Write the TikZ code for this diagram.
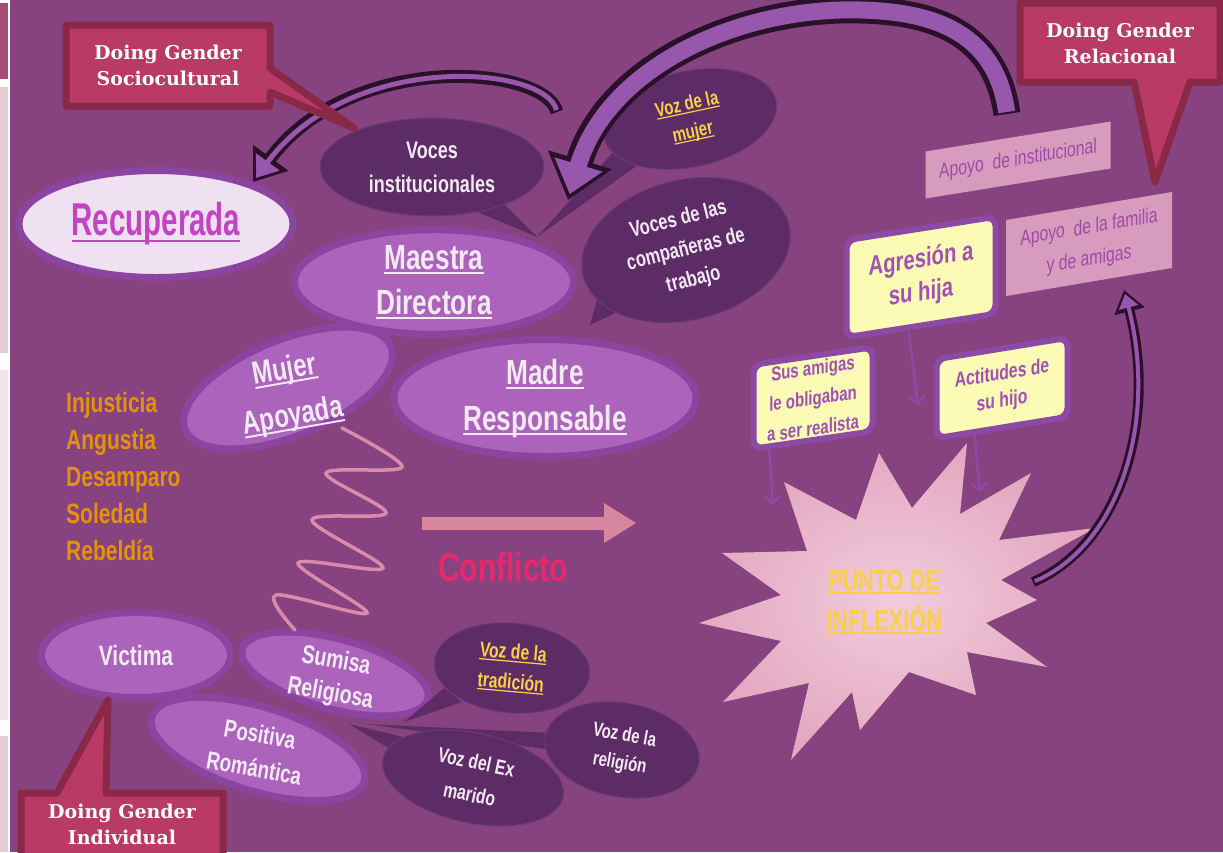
\documentclass[tikz,border=0pt]{standalone}
\usepackage{fontspec}
\setmainfont{Liberation Sans}
\newfontfamily\nar[FakeStretch=0.75]{Liberation Sans}
\newfontfamily\narr[FakeStretch=0.64]{Liberation Sans}
\newfontfamily\slab{DejaVu Serif}
\usetikzlibrary{shapes.geometric,arrows.meta,calc}
\definecolor{bg}{HTML}{87437F}
\definecolor{ellF}{HTML}{AB63BB}
\definecolor{ellB}{HTML}{8B45A1}
\definecolor{recF}{HTML}{EFE1F1}
\definecolor{recT}{HTML}{C244C4}
\definecolor{bubF}{HTML}{5D2C67}
\definecolor{bubB}{HTML}{6B3A78}
\definecolor{calF}{HTML}{B83A65}
\definecolor{calB}{HTML}{8A2848}
\definecolor{yelF}{HTML}{FBFBB6}
\definecolor{yelB}{HTML}{8D49A6}
\definecolor{yelT}{HTML}{A350B4}
\definecolor{apoF}{HTML}{D79BBE}
\definecolor{apoT}{HTML}{A04AA8}
\definecolor{txtW}{HTML}{F3E8F3}
\definecolor{txtY}{HTML}{F7D046}
\definecolor{orT}{HTML}{E3920A}
\definecolor{zig}{HTML}{D98BA9}
\definecolor{carr}{HTML}{D7869F}
\definecolor{confl}{HTML}{E8286C}
\definecolor{arrD}{HTML}{2B1029}
\definecolor{arrP}{HTML}{9657AC}
\definecolor{starL}{HTML}{F1CCDB}
\definecolor{starD}{HTML}{E3A8C0}
\definecolor{stripA}{HTML}{A84A78}
\definecolor{stripB}{HTML}{E6CCD6}
\definecolor{stripC}{HTML}{F1E5EB}
\newcommand{\myul}[1]{\setbox0=\hbox{#1}\rlap{\rule[-0.14em]{\wd0}{0.06em}}\box0}
\newcommand{\fsz}[2]{\fontsize{#1}{#2}\selectfont}
\begin{document}
\begin{tikzpicture}[x=1pt,y=-1pt,
 lell/.style={ellipse, draw=ellB, line width=7pt, fill=ellF, inner sep=0pt, text=txtW, align=center},
 bub/.style={ellipse, fill=bubF, draw=bubB, line width=1pt, inner sep=0pt, text=txtW, align=center},
 wtext/.style={text=txtW, align=center},
 ybox/.style={rectangle, rounded corners=9pt, draw=yelB, line width=6pt, fill=yelF, text=yelT, align=center, inner sep=0pt},
 apo/.style={rectangle, fill=apoF, text=apoT, align=center, inner sep=0pt},
 callout/.style={fill=calF, draw=calB, line width=7pt, line join=round},
 dgt/.style={text=white, align=center, font=\slab\bfseries\fsz{19}{26}},
 thinarr/.style={draw=yelB, line width=2.5pt, -{Straight Barb[length=7pt,width=16pt]}},
]
\useasboundingbox (0,0) rectangle (1223,852);
\fill[bg] (0,0) rectangle (1223,852);
% left strip
\fill[white] (0,0) rectangle (10,852);
\fill[stripA] (0,3) rectangle (8,79);
\fill[stripB] (0,87) rectangle (8,353);
\fill[stripC] (0,370) rectangle (8,720);
\fill[stripB] (0,736) rectangle (8,852);

% ---- top cluster of ellipses
\node[lell, fill=recF, minimum width=274, minimum height=107, text=recT, font=\narr\bfseries\fsz{46}{50}] (recup) at (156,224) {\myul{Recuperada}};
\node[lell, minimum width=279, minimum height=99, font=\nar\bfseries\fsz{35}{45}] (maestra) at (434,282) {\myul{Maestra}\\\myul{Directora}};
\node[lell, minimum width=222, minimum height=96, rotate=22] (mujer) at (288,388) {};
\node[wtext, rotate=10, font=\nar\bfseries\fsz{32}{47}] (mujerT) at (289,394) {\myul{Mujer}\\\myul{Apoyada}};
\node[lell, minimum width=302, minimum height=117, font=\nar\bfseries\fsz{35}{46}] (madre) at (545,398) {\myul{Madre}\\\myul{Responsable}};

% ---- bottom cluster of ellipses
\node[lell, minimum width=189, minimum height=85, font=\nar\bfseries\fsz{28}{32}] (victima) at (136,655) {Victima};
\node[lell, minimum width=192, minimum height=70, rotate=-15] (sumisa) at (335,674) {};
\node[wtext, rotate=-10, font=\nar\bfseries\fsz{26}{33}] (sumisaT) at (333,678) {Sumisa\\Religiosa};
\node[lell, minimum width=222, minimum height=84, rotate=-17] (positiva) at (258,749) {};
\node[wtext, rotate=-10, font=\nar\bfseries\fsz{25}{34}] (positivaT) at (257,751) {Positiva\\Romántica};

% ---- dark speech bubbles (tails first)
\fill[bubF] (495,195) -- (537,237) -- (468,208) -- cycle;
\fill[bubF] (615,150) -- (537,237) -- (642,162) -- cycle;
\fill[bubF] (598,296) -- (590,325) -- (626,308) -- cycle;
\fill[bubF] (444,688) -- (404,722) -- (462,702) -- cycle;
\fill[bubF] (552,733) -- (367,724) -- (552,750) -- cycle;
\fill[bubF] (395,752) -- (349,724) -- (415,740) -- cycle;
\node[bub, minimum width=224, minimum height=98, font=\nar\bfseries\fsz{24}{34}] (vocesI) at (432,167) {Voces\\institucionales};
\node[bub, minimum width=176, minimum height=96, rotate=12, text=txtY, font=\nar\bfseries\fsz{20}{28}] (vozM) at (690,119) {\myul{Voz de la}\\\myul{mujer}};
\node[bub, minimum width=212, minimum height=140, rotate=14, font=\nar\bfseries\fsz{22}{31}] (comp) at (686,250) {Voces de las\\compañeras de\\trabajo};
\node[bub, minimum width=156, minimum height=90, rotate=-5, text=txtY, font=\nar\bfseries\fsz{21}{30}] (trad) at (512,668) {\myul{Voz de la}\\\myul{tradición}};
\node[bub, minimum width=156, minimum height=94, rotate=-10, font=\nar\bfseries\fsz{20}{28}] (relig) at (622,750) {Voz de la\\religión};
\node[bub, minimum width=184, minimum height=90, rotate=-12, font=\nar\bfseries\fsz{21}{33}] (exm) at (473,778) {Voz del Ex\\marido};

% ---- emotions
\node[text=orT, font=\nar\bfseries\fsz{28}{37}, align=left, anchor=north west, inner sep=0pt] (emo) at (66,392) {Injusticia\\Angustia\\Desamparo\\Soledad\\Rebeldía};

% ---- zigzag
\coordinate (zs) at (342,428);
\coordinate (ze) at (295,630);
\draw[zig, line width=3.5pt, line cap=round] plot[smooth, tension=0.55] coordinates {(zs) (402,467) (326,473) (386,513) (312,520) (383,568) (298,563) (367,613) (276,595) (ze)};

% ---- conflict arrow
\fill[carr] (422,517) -- (604,517) -- (604,503) -- (636,523) -- (604,543) -- (604,530) -- (422,530) -- cycle;
\node[text=confl, font=\nar\bfseries\fsz{40}{46}] (confl) at (503,567) {Conflicto};

% ---- star
\shade[inner color=starL, outer color=starD] (784,482) -- (856,520) -- (879,453) -- (912,508) -- (967,443) -- (960,514) -- (1031,473) -- (999,540) -- (1095,528) -- (1001,580) -- (1037,600) -- (986,623) -- (1047,667) -- (967,652) -- (976,695) -- (909,672) -- (860,730) -- (852,692) -- (791,760) -- (809,683) -- (723,702) -- (781,641) -- (699,623) -- (781,595) -- (722,553) -- (807,551) -- cycle;
\node[text=txtY, font=\nar\bfseries\fsz{29}{40}, align=center] (punto) at (884,602) {\myul{PUNTO DE}\\\myul{INFLEXIÓN}};

% ---- apoyo boxes
\node[apo, yslant=0.162, minimum width=185, minimum height=47, font=\nar\fsz{21}{24}] (apoI) at (1018,160) {Apoyo\ \ de institucional};
\node[apo, yslant=0.169, minimum width=166, minimum height=76, font=\nar\fsz{21}{32}] (apoF) at (1089,244) {Apoyo\ \ de la familia\\y de amigas};

% ---- yellow boxes
\node[ybox, yslant=0.157, minimum width=149, minimum height=97, font=\nar\bfseries\fsz{27}{33}] (agr) at (921,277) {Agresión a\\su hija};
\node[ybox, yslant=0.146, minimum width=119, minimum height=84, font=\nar\bfseries\fsz{20}{30}] (sus) at (813,398) {Sus amigas\\le obligaban\\a ser realista};
\node[ybox, yslant=0.163, minimum width=131, minimum height=79, font=\nar\bfseries\fsz{21}{27}] (act) at (1002,388) {Actitudes de\\su hijo};

\coordinate (agrEnd) at (918,405);
\coordinate (susEnd) at (773,505);
\coordinate (actEnd) at (980,492);
\draw[thinarr] ($(agr.south west)!0.42!(agr.south east)$) -- (agrEnd);
\draw[thinarr] ($(sus.south west)!0.15!(sus.south east)$) -- (susEnd);
\draw[thinarr] ($(act.south west)!0.3!(act.south east)$) -- (actEnd);

% ---- curved ribbon arrows
\coordinate (a1s) at (557,112);
\coordinate (a1e) at (253,182);
\draw[arrD, line width=13pt, -{Triangle[length=30pt,width=42pt]}] (a1s) .. controls (545,65) and (350,50) .. (a1e);
\draw[arrP, line width=5pt, shorten <=2pt, shorten >=5pt, -{Triangle[length=20pt,width=28pt]}] (a1s) .. controls (545,65) and (350,50) .. (a1e);

\coordinate (a2s) at (1007,114);
\coordinate (a2e) at (568,200);
\draw[arrD, line width=27pt, -{Triangle[length=42pt,width=64pt]}] (a2s) .. controls (995,30) and (930,8) .. (840,10) .. controls (720,14) and (605,75) .. (a2e);
\draw[arrP, line width=17pt, shorten <=2pt, shorten >=6pt, -{Triangle[length=31pt,width=48pt]}] (a2s) .. controls (995,30) and (930,8) .. (840,10) .. controls (720,14) and (605,75) .. (a2e);

\coordinate (a3s) at (1033,582);
\coordinate (a3e) at (1124,290);
\draw[arrD, line width=10pt, -{Triangle[length=22pt,width=30pt]}] (a3s) .. controls (1120,545) and (1158,420) .. (a3e);
\draw[arrP, line width=4pt, shorten <=2pt, shorten >=4pt, -{Triangle[length=14pt,width=19pt]}] (a3s) .. controls (1120,545) and (1158,420) .. (a3e);

% ---- Doing Gender callouts
\draw[callout] (66,25) -- (270,25) -- (270,68) -- (354,128) -- (270,92) -- (270,106) -- (66,106) -- cycle;
\node[dgt] (dgS) at (168,65) {Doing Gender\\Sociocultural};
\draw[callout] (1020,3) -- (1220,3) -- (1220,82) -- (1190,82) -- (1155,182) -- (1134,82) -- (1020,82) -- cycle;
\node[dgt] (dgR) at (1120,43) {Doing Gender\\Relacional};
\draw[callout] (21,793) -- (57,793) -- (108,700) -- (106,793) -- (223,793) -- (223,862) -- (21,862) -- cycle;
\node[dgt] (dgI) at (122,824) {Doing Gender\\Individual};
\end{tikzpicture}
\end{document}
